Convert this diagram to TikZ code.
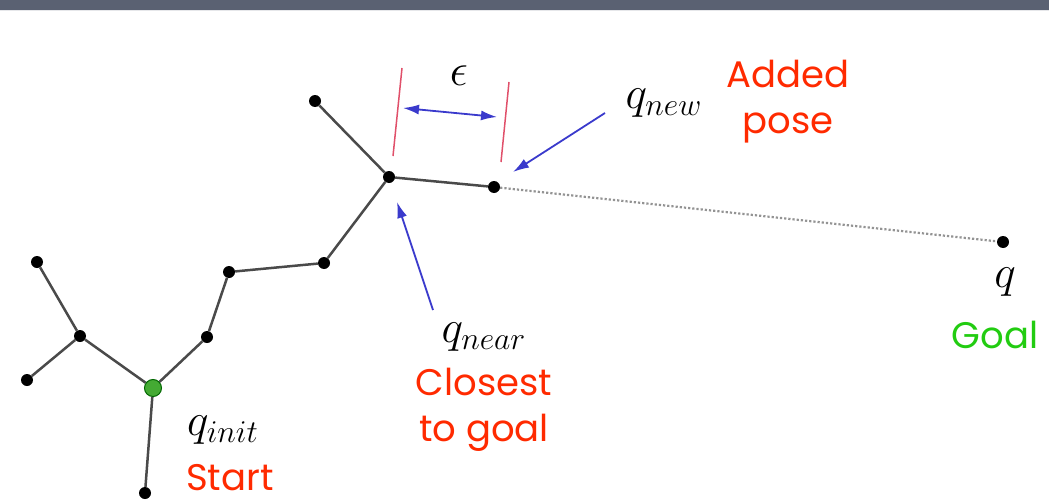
\documentclass[tikz,border=0pt]{standalone}
\usepackage{fontspec}
\newfontfamily\labfont{Poppins}
\usetikzlibrary{arrows.meta}
\definecolor{band}{HTML}{5A6172}
\definecolor{edgegray}{HTML}{4A4A4A}
\definecolor{lblred}{HTML}{FF2A00}
\definecolor{lblgreen}{HTML}{22CC11}
\definecolor{arrblue}{HTML}{3A3ACC}
\definecolor{epsred}{HTML}{E0506A}
\definecolor{initgreen}{HTML}{44AA33}
\tikzset{
  vtx/.style={circle,fill=black,inner sep=0pt,minimum size=12pt},
  initvtx/.style={circle,fill=initgreen,draw=green!40!black,line width=1pt,inner sep=0pt,minimum size=17pt},
  treeedge/.style={draw=edgegray,line width=2.5pt},
  mathlab/.style={font=\fontsize{20.74}{24}\selectfont,inner sep=0pt,scale=2.2},
  redlab/.style={font=\labfont\fontsize{37}{46}\selectfont,text=lblred,inner sep=0pt,align=center},
  greenlab/.style={font=\labfont\fontsize{37}{46}\selectfont,text=lblgreen,inner sep=0pt},
  bluearrow/.style={draw=arrblue,line width=1.8pt,-{Latex[length=16pt,width=10pt]}},
  epsbar/.style={draw=epsred,line width=1.5pt},
}
\begin{document}
\begin{tikzpicture}[x=1pt,y=-1pt]
\useasboundingbox (0,0) rectangle (1049,503);
\fill[band] (0,0) rectangle (1049,10);
\draw[white!85!band,line width=1pt] (0,10.5) -- (1049,10.5);
% vertices
\node[initvtx] (qi) at (153,388) {};
\node[vtx] (b) at (145,493) {};
\node[vtx] (l) at (80,336) {};
\node[vtx] (lu) at (37,262) {};
\node[vtx] (ld) at (27,380) {};
\node[vtx] (r1) at (207,337) {};
\node[vtx] (r2) at (229,272) {};
\node[vtx] (r3) at (324,263) {};
\node[vtx] (qn) at (389,177) {};
\node[vtx] (t) at (315,101) {};
\node[vtx] (qw) at (494,187) {};
\node[vtx] (g) at (1003,242) {};
% edges
\draw[treeedge] (qi) -- (b);
\draw[treeedge] (qi) -- (l);
\draw[treeedge] (l) -- (lu);
\draw[treeedge] (l) -- (ld);
\draw[treeedge] (qi) -- (r1);
\draw[treeedge] (r1) -- (r2);
\draw[treeedge] (r2) -- (r3);
\draw[treeedge] (r3) -- (qn);
\draw[treeedge] (qn) -- (t);
\draw[treeedge] (qn) -- (qw);
\draw[gray!85,line width=2.2pt,dotted] (qw) -- (g);
% epsilon
\coordinate (e1a) at (402,68);
\coordinate (e1b) at (393,156);
\coordinate (e2a) at (509,82);
\coordinate (e2b) at (501,162);
\draw[epsbar] (e1a) -- (e1b);
\draw[epsbar] (e2a) -- (e2b);
\coordinate (ea) at (403,108);
\coordinate (eb) at (497,117);
\draw[draw=arrblue,line width=1.8pt,{Latex[length=16pt,width=10pt]}-{Latex[length=16pt,width=10pt]}] (ea) -- (eb);
\node[mathlab] (eps) at (459,76) {$\epsilon$};
% labels
\node[mathlab] (lnew) at (664,103) {$q_{new}$};
\node[redlab] (added) at (788,102) {Added\\pose};
\node[mathlab] (lnear) at (484,337) {$q_{near}$};
\node[redlab] (closest) at (484,410) {Closest\\to goal};
\node[mathlab] (linit) at (223,430) {$q_{init}$};
\node[redlab] (start) at (230,478) {Start};
\node[mathlab] (lq) at (1005,282) {$q$};
\node[greenlab] (goal) at (995,335) {Goal};
% arrows
\coordinate (snew) at (605,113);
\coordinate (anew) at (513,172);
\coordinate (snear) at (433,310);
\coordinate (anear) at (397,202);
\draw[bluearrow] (snew) -- (anew);
\draw[bluearrow] (snear) -- (anear);
\end{tikzpicture}
\end{document}
